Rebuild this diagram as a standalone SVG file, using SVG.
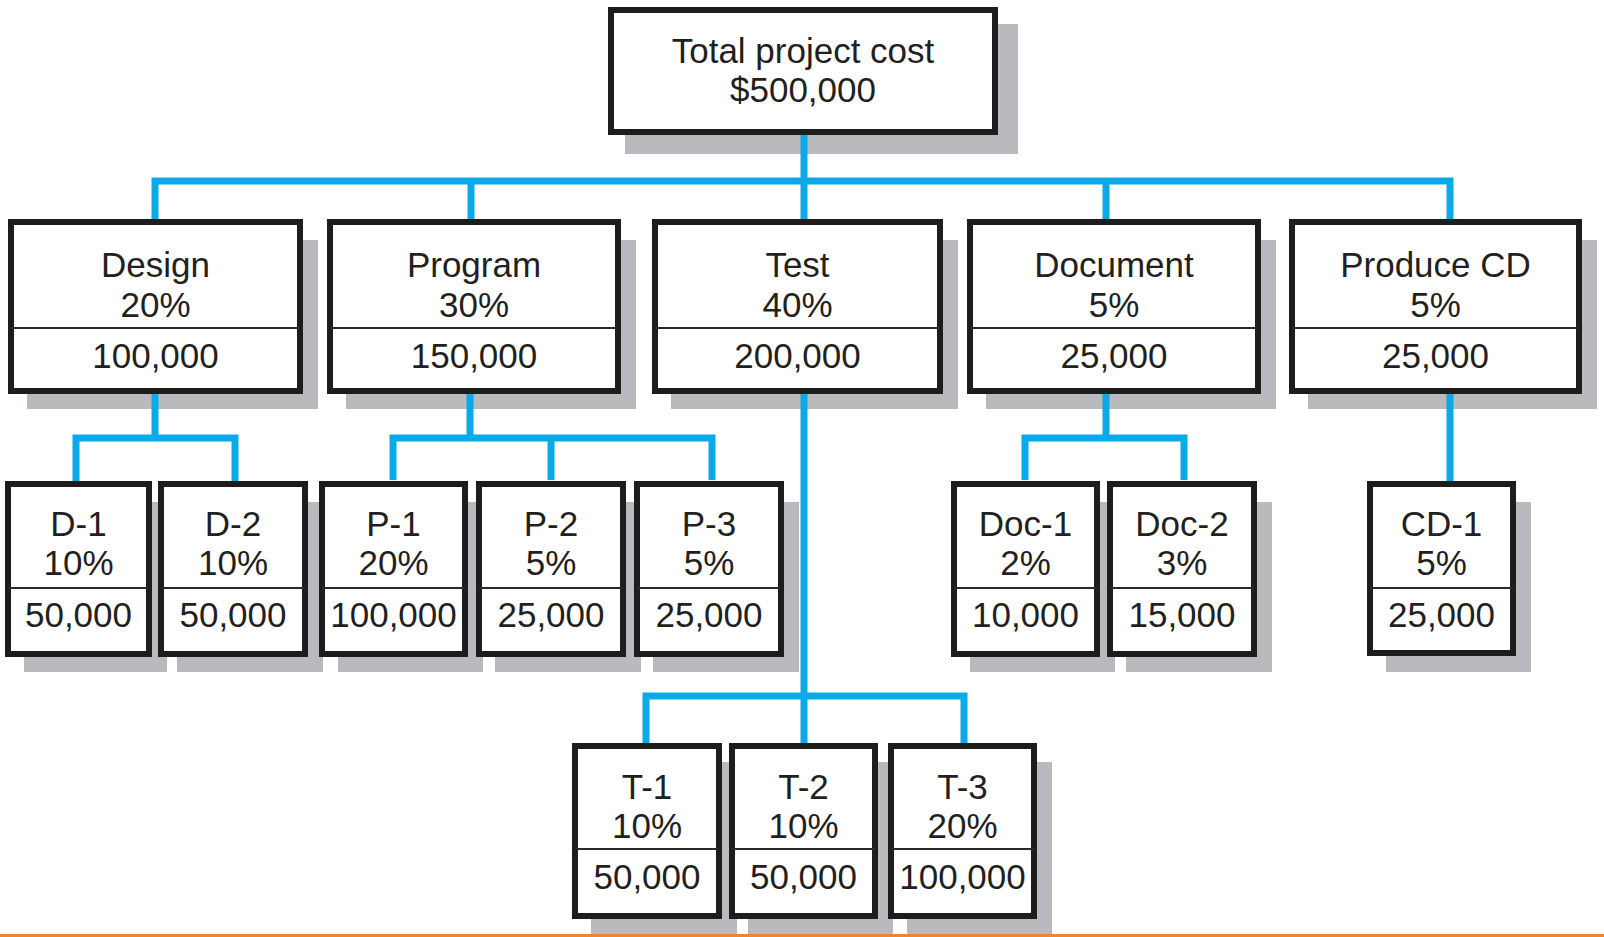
<svg xmlns="http://www.w3.org/2000/svg" width="1604" height="937" viewBox="0 0 1604 937">
<style>
.bg{fill:#ffffff}
.sh{fill:#b9babd}
.box{fill:#ffffff;stroke:#1d1d1d;stroke-width:6}
.div{stroke:#2a2a2a;stroke-width:2}
.con{fill:none;stroke:#0aa9e8;stroke-width:7;stroke-linejoin:miter;stroke-linecap:butt}
text{font-family:"Liberation Sans",Arial,Helvetica,sans-serif;font-size:35px;fill:#231f20;text-anchor:middle}
</style>
<rect class="bg" x="0" y="0" width="1604" height="937"/>
<g id="shadows">
<rect class="sh" x="625" y="24" width="393" height="130"/>
<rect class="sh" x="27" y="240" width="291" height="169"/>
<rect class="sh" x="346" y="240" width="290" height="169"/>
<rect class="sh" x="671" y="240" width="287" height="169"/>
<rect class="sh" x="986" y="240" width="290" height="169"/>
<rect class="sh" x="1308" y="240" width="289" height="169"/>
<rect class="sh" x="24" y="502" width="143" height="170"/>
<rect class="sh" x="177" y="502" width="146" height="170"/>
<rect class="sh" x="338" y="502" width="145" height="170"/>
<rect class="sh" x="495" y="502" width="146" height="170"/>
<rect class="sh" x="653" y="502" width="146" height="170"/>
<rect class="sh" x="970" y="502" width="145" height="170"/>
<rect class="sh" x="1126" y="502" width="146" height="170"/>
<rect class="sh" x="1386" y="502" width="145" height="170"/>
<rect class="sh" x="591" y="762" width="146" height="172"/>
<rect class="sh" x="748" y="762" width="145" height="172"/>
<rect class="sh" x="907" y="762" width="145" height="172"/>
</g>
<g id="connectors">
<path class="con" d="M804,135 V219"/>
<path class="con" d="M155,219 V181 H1450 V219"/>
<path class="con" d="M471,181 V219"/>
<path class="con" d="M1106,181 V219"/>
<path class="con" d="M155,394 V438"/>
<path class="con" d="M76,481 V438 H235 V481"/>
<path class="con" d="M470,394 V438"/>
<path class="con" d="M393,480 V438 H712 V480"/>
<path class="con" d="M551,438 V480"/>
<path class="con" d="M804,394 V743"/>
<path class="con" d="M646,743 V696 H964 V743"/>
<path class="con" d="M1106,394 V438"/>
<path class="con" d="M1025,480 V438 H1184 V480"/>
<path class="con" d="M1450,394 V481"/>
</g>
<g id="node-total">
<rect class="box" x="611" y="10" width="384" height="122"/>
<text x="803" y="63">Total project cost</text>
<text x="803" y="102">$500,000</text>
</g>
<g id="node-design">
<rect class="box" x="11" y="222" width="289" height="169"/>
<line class="div" x1="11" y1="328" x2="300" y2="328"/>
<text x="155.5" y="277">Design</text>
<text x="155.5" y="317">20%</text>
<text x="155.5" y="368">100,000</text>
</g>
<g id="node-program">
<rect class="box" x="330" y="222" width="288" height="169"/>
<line class="div" x1="330" y1="328" x2="618" y2="328"/>
<text x="474" y="277">Program</text>
<text x="474" y="317">30%</text>
<text x="474" y="368">150,000</text>
</g>
<g id="node-test">
<rect class="box" x="655" y="222" width="285" height="169"/>
<line class="div" x1="655" y1="328" x2="940" y2="328"/>
<text x="797.5" y="277">Test</text>
<text x="797.5" y="317">40%</text>
<text x="797.5" y="368">200,000</text>
</g>
<g id="node-document">
<rect class="box" x="970" y="222" width="288" height="169"/>
<line class="div" x1="970" y1="328" x2="1258" y2="328"/>
<text x="1114" y="277">Document</text>
<text x="1114" y="317">5%</text>
<text x="1114" y="368">25,000</text>
</g>
<g id="node-produce-cd">
<rect class="box" x="1292" y="222" width="287" height="169"/>
<line class="div" x1="1292" y1="328" x2="1579" y2="328"/>
<text x="1435.5" y="277">Produce CD</text>
<text x="1435.5" y="317">5%</text>
<text x="1435.5" y="368">25,000</text>
</g>
<g id="node-d1">
<rect class="box" x="8" y="484" width="141" height="170"/>
<line class="div" x1="8" y1="588" x2="149" y2="588"/>
<text x="78.5" y="536">D-1</text>
<text x="78.5" y="575">10%</text>
<text x="78.5" y="627">50,000</text>
</g>
<g id="node-d2">
<rect class="box" x="161" y="484" width="144" height="170"/>
<line class="div" x1="161" y1="588" x2="305" y2="588"/>
<text x="233" y="536">D-2</text>
<text x="233" y="575">10%</text>
<text x="233" y="627">50,000</text>
</g>
<g id="node-p1">
<rect class="box" x="322" y="484" width="143" height="170"/>
<line class="div" x1="322" y1="588" x2="465" y2="588"/>
<text x="393.5" y="536">P-1</text>
<text x="393.5" y="575">20%</text>
<text x="393.5" y="627">100,000</text>
</g>
<g id="node-p2">
<rect class="box" x="479" y="484" width="144" height="170"/>
<line class="div" x1="479" y1="588" x2="623" y2="588"/>
<text x="551" y="536">P-2</text>
<text x="551" y="575">5%</text>
<text x="551" y="627">25,000</text>
</g>
<g id="node-p3">
<rect class="box" x="637" y="484" width="144" height="170"/>
<line class="div" x1="637" y1="588" x2="781" y2="588"/>
<text x="709" y="536">P-3</text>
<text x="709" y="575">5%</text>
<text x="709" y="627">25,000</text>
</g>
<g id="node-doc1">
<rect class="box" x="954" y="484" width="143" height="170"/>
<line class="div" x1="954" y1="588" x2="1097" y2="588"/>
<text x="1025.5" y="536">Doc-1</text>
<text x="1025.5" y="575">2%</text>
<text x="1025.5" y="627">10,000</text>
</g>
<g id="node-doc2">
<rect class="box" x="1110" y="484" width="144" height="170"/>
<line class="div" x1="1110" y1="588" x2="1254" y2="588"/>
<text x="1182" y="536">Doc-2</text>
<text x="1182" y="575">3%</text>
<text x="1182" y="627">15,000</text>
</g>
<g id="node-cd1">
<rect class="box" x="1370" y="484" width="143" height="169"/>
<line class="div" x1="1370" y1="588" x2="1513" y2="588"/>
<text x="1441.5" y="536">CD-1</text>
<text x="1441.5" y="575">5%</text>
<text x="1441.5" y="627">25,000</text>
</g>
<g id="node-t1">
<rect class="box" x="575" y="746" width="144" height="170"/>
<line class="div" x1="575" y1="849" x2="719" y2="849"/>
<text x="647" y="799">T-1</text>
<text x="647" y="838">10%</text>
<text x="647" y="889">50,000</text>
</g>
<g id="node-t2">
<rect class="box" x="732" y="746" width="143" height="170"/>
<line class="div" x1="732" y1="849" x2="875" y2="849"/>
<text x="803.5" y="799">T-2</text>
<text x="803.5" y="838">10%</text>
<text x="803.5" y="889">50,000</text>
</g>
<g id="node-t3">
<rect class="box" x="891" y="746" width="143" height="170"/>
<line class="div" x1="891" y1="849" x2="1034" y2="849"/>
<text x="962.5" y="799">T-3</text>
<text x="962.5" y="838">20%</text>
<text x="962.5" y="889">100,000</text>
</g>
<rect x="0" y="934" width="1604" height="3" fill="#e2893c"/>
</svg>
